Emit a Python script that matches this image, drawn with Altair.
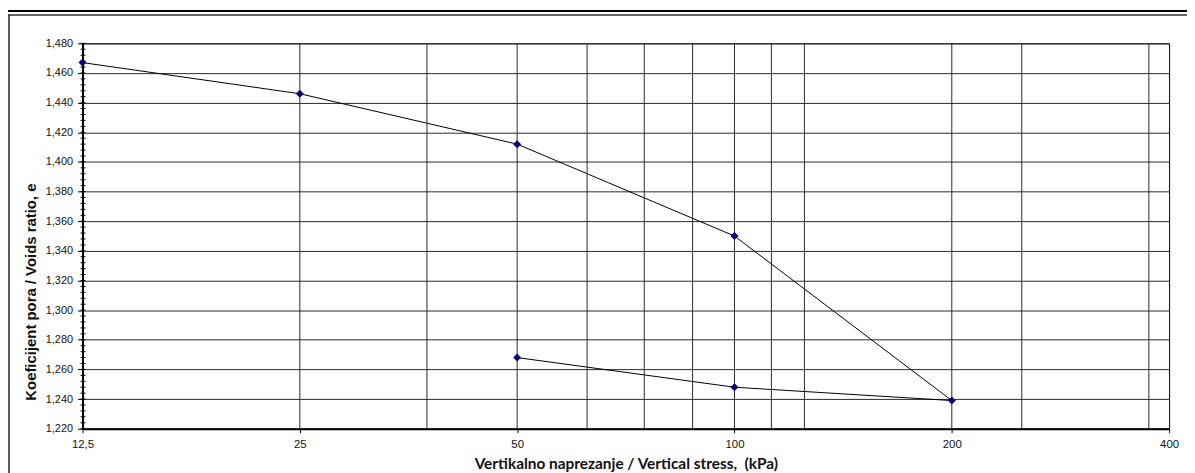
import altair as alt
import pandas as pd

# ---- data ----
stress = [12.5, 25, 50, 100, 200, 100, 50]
void_ratio = [1.467, 1.446, 1.412, 1.350, 1.239, 1.248, 1.268]
step = [0, 1, 2, 3, 4, 5, 6]

x_ticks = [12.5, 25, 50, 100, 200, 400]
x_grid = [25, 37.5, 50, 62.5, 75, 87.5, 100, 112.5, 125, 200, 250, 375]
y_ticks = [1.22, 1.24, 1.26, 1.28, 1.30, 1.32, 1.34, 1.36, 1.38, 1.40,
           1.42, 1.44, 1.46, 1.48]
y_minor = [round(1.22 + 0.004 * i, 3) for i in range(66)]

x_title = "Vertikalno naprezanje / Vertical stress,\u00a0 (kPa)"
y_title = "Koeficijent pora / Voids ratio, e"

df = pd.DataFrame({"stress": stress, "e": void_ratio, "step": step})
grid_df = pd.DataFrame({"stress": x_grid})
minor_df = pd.DataFrame({"e": y_minor})
one = pd.DataFrame({"k": [0]})

W, H = 1094, 388

xs = alt.Scale(type="log", base=2, domain=[12.5, 400], nice=False)
ys = alt.Scale(domain=[1.22, 1.48], nice=False, zero=False)

x_axis = alt.Axis(
    values=x_ticks,
    labelExpr="replace(toString(datum.value), '.', ',')",
    labelFlush=False,
    labelOverlap=False,
    grid=False,
    domainColor="black",
    domainWidth=2,
    tickColor="black",
    tickSize=4,
    labelFont="Liberation Sans",
    labelFontSize=11.5,
    labelColor="#111",
    labelPadding=6,
    title=x_title,
    titleFont="Lato",
    titleFontSize=15.5,
    titleFontWeight="bold",
    titleColor="#111",
    titlePadding=7,
)
y_axis = alt.Axis(
    values=y_ticks,
    labelExpr="replace(format(datum.value, '.3f'), '.', ',')",
    labelOverlap=False,
    grid=True,
    gridColor="#2a2a2a",
    gridWidth=1,
    domainColor="black",
    domainWidth=2,
    tickColor="black",
    tickSize=5,
    labelFont="Liberation Sans",
    labelFontSize=11,
    labelColor="#111",
    labelPadding=5,
    title=y_title,
    titleFont="Liberation Sans",
    titleFontSize=15,
    titleFontWeight="bold",
    titleColor="#111",
    titleAngle=270,
    titleX=-52,
    titleY=250,
    titleAlign="center",
    titleBaseline="middle",
)

X = alt.X("stress:Q", scale=xs, axis=x_axis, title=x_title)
Y = alt.Y("e:Q", scale=ys, axis=y_axis, title=y_title)

line = alt.Chart(df).mark_line(color="black", strokeWidth=1).encode(
    x=X, y=Y, order="step:O"
)

vgrid = alt.Chart(grid_df).mark_rule(color="#2a2a2a", strokeWidth=1).encode(x=X)

minor = alt.Chart(minor_df).mark_rule(color="black", strokeWidth=1).encode(
    y=Y, x=alt.value(-2), x2=alt.value(3)
)

points = alt.Chart(df).mark_point(
    shape="diamond", filled=True, color="#000080", size=65, opacity=1
).encode(x=X, y=Y)

# frame decorations of the surrounding sheet
top_thick = alt.Chart(one).mark_rule(color="black", strokeWidth=2).encode(
    x=alt.value(-80), x2=alt.value(1120), y=alt.value(-32.5)
)
top_thin = alt.Chart(one).mark_rule(color="#333", strokeWidth=1.5).encode(
    x=alt.value(-80), x2=alt.value(1120), y=alt.value(-28.5)
)
left_frame = alt.Chart(one).mark_rule(color="#222", strokeWidth=1.5).encode(
    x=alt.value(-74), y=alt.value(-28.5), y2=alt.value(440)
)

chart = (
    alt.layer(line, vgrid, minor, points, top_thick, top_thin, left_frame)
    .properties(
        width=W,
        height=H,
        padding={"left": 75, "top": 34, "right": 18, "bottom": 43},
        autosize=alt.AutoSizeParams(type="none"),
        background="white",
    )
    .configure_view(stroke="black", strokeWidth=1)
)

chart.save("out.html", embed_options={"renderer": "svg", "actions": False})
